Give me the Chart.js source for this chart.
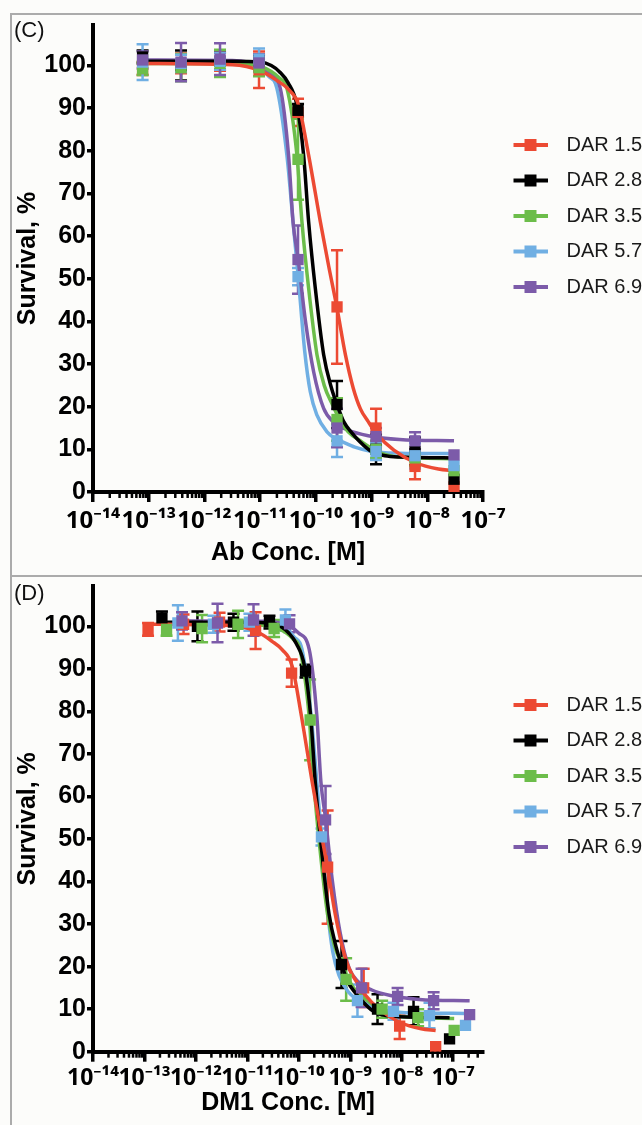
<!DOCTYPE html>
<html><head><meta charset="utf-8">
<script src="https://cdn.jsdelivr.net/npm/chart.js@4.4.1/dist/chart.umd.min.js"></script>
<style>
html,body{margin:0;padding:0;background:#fcfcfa;}
body{width:642px;height:1125px;position:relative;overflow:hidden;font-family:'Liberation Sans',Arial,sans-serif;}
.frame{position:absolute;left:10px;top:13px;width:632px;height:1112px;border-left:2px solid #ababab;border-top:2px solid #ababab;box-sizing:border-box;}
.divider{position:absolute;left:10px;top:575px;width:632px;height:2px;background:#ababab;}
canvas{position:absolute;}
.tag{position:absolute;left:14px;font-size:22px;color:#111;line-height:22px;}
</style></head>
<body>
<div class="frame"></div><div class="divider"></div>
<canvas id="chartC" width="630" height="560" style="left:12px;top:15px"></canvas>
<canvas id="chartD" width="630" height="547" style="left:12px;top:578px"></canvas>
<div class="tag" style="top:19px">(C)</div>
<div class="tag" style="top:582px">(D)</div>
<script>
// ---------- data ----------
const seriesLabels = ['DAR 1.5', 'DAR 2.8', 'DAR 3.5', 'DAR 5.7', 'DAR 6.9'];
const seriesColors = ['#ec4a33', '#000000', '#6cbd4a', '#70afe3', '#7c5ba9'];
const yTickValues = [0, 10, 20, 30, 40, 50, 60, 70, 80, 90, 100];
const xTickExponents = [-14, -13, -12, -11, -10, -9, -8, -7];

// log10 of antibody concentration [M] (panel C)
const abConcLog = [-13.11, -12.42, -11.72, -11.02, -10.32, -9.62, -8.92, -8.22, -7.52];
// log10 of DM1 concentration [M] per DAR (panel D)
const dm1ConcLog15 = [-12.93, -12.24, -11.54, -10.84, -10.14, -9.44, -8.74, -8.04, -7.34];
const dm1ConcLog28 = [-12.66, -11.97, -11.27, -10.57, -9.87, -9.17, -8.47, -7.77, -7.07];
const dm1ConcLog35 = [-12.57, -11.88, -11.18, -10.48, -9.78, -9.08, -8.38, -7.68, -6.98];
const dm1ConcLog57 = [-12.35, -11.66, -10.96, -10.26, -9.56, -8.86, -8.16, -7.46, -6.76];
const dm1ConcLog69 = [-12.27, -11.58, -10.88, -10.18, -9.48, -8.78, -8.08, -7.38, -6.68];

// survival % and error
const surv15 = [99.3, 100.5, 101, 99, 89, 43.4, 15, 6, 1.2];
const err15  = [1.5, 2.3, 2.2, 4.3, 3.2, 13.3, 4.5, 3, 0];
const surv28 = [102, 100, 101, 101, 89.5, 20.5, 10, 9.5, 3];
const err28  = [1.5, 3.5, 2, 1.5, 1.5, 5.5, 3.5, 3.3, 0];
const surv35 = [99.3, 99.5, 100.5, 99.5, 78, 17, 10, 8, 5];
const err35  = [1.5, 3.2, 3.2, 2, 9.5, 5, 2, 2, 0];
const surv57 = [100.8, 100.5, 101, 101.5, 50.5, 12, 9.5, 8.5, 6.2];
const err57  = [4.2, 2, 2, 2.5, 2, 3.8, 2, 3, 0];
const surv69 = [101.3, 100.8, 101.5, 100.6, 54.5, 15, 13, 12, 8.7];
const err69  = [2, 4.5, 3.7, 2, 8, 4.5, 2, 2, 0];

// fitted curves (y), x in log10 Ab conc (C) and log10 DM1 conc (D)
const fit15 = [100.5, 100.2, 98.8, 96.5, 94.5, 90.7, 79, 63.4, 53, 43.1, 32.2, 24.4, 19.5, 16.5, 13.5, 9.8, 6.8, 5.4, 5.0];
const fitAbLog15 = [-13.11, -11.5, -11.0, -10.7, -10.5, -10.31, -10.13, -9.92, -9.77, -9.62, -9.47, -9.33, -9.2, -9.06, -8.9, -8.6, -8.2, -7.8, -7.52];
const fitDm1Log15 = [-12.93, -11.32, -10.82, -10.52, -10.32, -10.13, -9.95, -9.74, -9.59, -9.44, -9.29, -9.15, -9.02, -8.88, -8.72, -8.42, -8.02, -7.62, -7.34];

const fit28 = [101, 101, 100.8, 100, 98.5, 96, 90.7, 79, 63.4, 47.8, 32.2, 24.4, 19.8, 16.5, 13.8, 12.2, 9.5, 8.2, 8.0];
const fitAbLog28 = [-13.11, -11.5, -11.0, -10.8, -10.65, -10.5, -10.34, -10.22, -10.13, -10.01, -9.86, -9.72, -9.6, -9.5, -9.35, -9.24, -9.0, -8.5, -7.52];
const fitDm1Log28 = [-12.66, -11.05, -10.55, -10.35, -10.2, -10.05, -9.89, -9.77, -9.68, -9.56, -9.41, -9.27, -9.15, -9.05, -8.9, -8.79, -8.55, -8.05, -7.07];

const fit35 = [100.5, 100.4, 99.8, 98.6, 97, 94.7, 79, 63.4, 47.8, 32.2, 25, 20.4, 16.5, 14.1, 11.8, 9.5, 8.2, 7.8];
const fitAbLog35 = [-13.11, -11.5, -11.0, -10.8, -10.65, -10.52, -10.34, -10.25, -10.13, -9.98, -9.85, -9.7, -9.55, -9.42, -9.18, -8.9, -8.5, -7.52];
const fitDm1Log35 = [-12.57, -10.96, -10.46, -10.26, -10.11, -9.98, -9.8, -9.71, -9.59, -9.44, -9.31, -9.16, -9.01, -8.88, -8.64, -8.36, -7.96, -6.98];

const fit57 = [101, 101, 100.5, 99.5, 97.5, 94.7, 79, 62, 51, 33, 23.5, 18, 14.1, 12.5, 11.8, 10.5, 9.5, 9.1, 9.0];
const fitAbLog57 = [-13.11, -11.5, -11.2, -11.0, -10.85, -10.7, -10.52, -10.4, -10.32, -10.2, -10.1, -9.98, -9.8, -9.65, -9.53, -9.3, -9.0, -8.5, -7.52];
const fitDm1Log57 = [-12.35, -10.74, -10.44, -10.24, -10.09, -9.94, -9.76, -9.64, -9.56, -9.44, -9.34, -9.22, -9.04, -8.89, -8.77, -8.54, -8.24, -7.74, -6.76];

const fit69 = [101.3, 101.2, 100.8, 100, 98.5, 94.7, 79, 63.4, 54.8, 40.4, 28.2, 19.6, 16.5, 14.5, 13.2, 12.3, 12.0];
const fitAbLog69 = [-13.11, -11.5, -11.2, -11.0, -10.85, -10.64, -10.49, -10.41, -10.32, -10.19, -10.04, -9.86, -9.69, -9.42, -9.06, -8.5, -7.52];
const fitDm1Log69 = [-12.27, -10.66, -10.36, -10.16, -10.01, -9.8, -9.65, -9.57, -9.48, -9.35, -9.2, -9.02, -8.85, -8.58, -8.22, -7.66, -6.68];

// ---------- build ----------
const FONT = "'Liberation Sans', Arial, Helvetica, sans-serif";
const TICKFONT = "'Noto Sans', 'DejaVu Sans', sans-serif";
const survs = [surv15, surv28, surv35, surv57, surv69];
const errs = [err15, err28, err35, err57, err69];
const fits = [fit15, fit28, fit35, fit57, fit69];
const fitOrder = [10, 11, 12, 14, 13];

const SUP = {'-':'\u207B','0':'\u2070','1':'\u00B9','2':'\u00B2','3':'\u00B3','4':'\u2074','5':'\u2075','6':'\u2076','7':'\u2077','8':'\u2078','9':'\u2079'};
const toSup = v => String(v).split('').map(c => SUP[c] || c).join('');

function makeMarker(color) {
  const c = document.createElement('canvas');
  c.width = 40; c.height = 14;
  const g = c.getContext('2d');
  g.fillStyle = color;
  g.fillRect(6, 5, 34, 4);
  g.fillRect(17, 1, 12, 12);
  return c;
}
const markers = seriesColors.map(makeMarker);

function buildDatasets(pointX, curveX) {
  const ds = [];
  for (let i = 0; i < 5; i++) {
    ds.push({
      label: seriesLabels[i],
      data: pointX[i].map((x, j) => ({x, y: survs[i][j]})),
      errors: errs[i],
      backgroundColor: seriesColors[i], borderColor: seriesColors[i],
      pointStyle: 'rect', pointRadius: 8, pointBorderWidth: 0,
      showLine: false, order: 5 - i
    });
  }
  for (let i = 0; i < 5; i++) {
    ds.push({
      label: seriesLabels[i] + ' fit',
      data: curveX[i].map((x, j) => ({x, y: fits[i][j]})),
      borderColor: seriesColors[i], backgroundColor: seriesColors[i],
      borderWidth: 3.5, pointRadius: 0, showLine: true,
      cubicInterpolationMode: 'monotone', order: fitOrder[i]
    });
  }
  return ds;
}

const errorBars = {
  id: 'errorBars',
  beforeDatasetsDraw(chart) {
    const {ctx, scales: {x, y}} = chart;
    chart.data.datasets.forEach(ds => {
      if (!ds.errors) return;
      ctx.save();
      ctx.strokeStyle = ds.borderColor;
      ctx.lineWidth = 2.5;
      ds.data.forEach((p, j) => {
        const e = ds.errors[j];
        if (!e) return;
        const px = x.getPixelForValue(p.x);
        const t = y.getPixelForValue(p.y + e), b = y.getPixelForValue(p.y - e);
        ctx.beginPath();
        ctx.moveTo(px, t); ctx.lineTo(px, b);
        ctx.moveTo(px - 6, t); ctx.lineTo(px + 6, t);
        ctx.moveTo(px - 6, b); ctx.lineTo(px + 6, b);
        ctx.stroke();
      });
      ctx.restore();
    });
  }
};

const minorTicks = {
  id: 'minorTicks',
  afterDraw(chart) {
    const xs = chart.scales.x, ctx = chart.ctx;
    const y0 = xs.top;
    ctx.save();
    ctx.strokeStyle = '#000';
    ctx.lineWidth = 2.5;
    for (let n = Math.floor(xs.min); n < xs.max; n++) {
      for (let k = 2; k < 10; k++) {
        const v = n + Math.log10(k);
        if (v > xs.max) break;
        const px = xs.getPixelForValue(v);
        ctx.beginPath(); ctx.moveTo(px, y0); ctx.lineTo(px, y0 + 6); ctx.stroke();
      }
    }
    ctx.restore();
  }
};

function makeOptions(cfg) {
  return {
    responsive: false, animation: false, devicePixelRatio: 1, events: [],
    layout: {padding: {top: cfg.top, left: 0, right: 0, bottom: 0}},
    plugins: {
      tooltip: {enabled: false},
      title: {display: false},
      legend: {
        position: 'right', align: 'start', maxWidth: 159,
        title: {display: true, text: ' ', font: {size: 10, lineHeight: 1}, padding: {top: cfg.legendOffset, bottom: 0}},
        labels: {
          usePointStyle: true, pointStyleWidth: 58, padding: 15.5,
          color: '#1a1a1a', font: {family: FONT, size: 20},
          generateLabels: () => seriesLabels.map((t, i) => ({
            text: t, datasetIndex: i, pointStyle: markers[i],
            fillStyle: seriesColors[i], strokeStyle: seriesColors[i],
            lineWidth: 0, hidden: false, fontColor: '#1a1a1a'
          }))
        }
      }
    },
    scales: {
      x: {
        type: 'linear', position: 'bottom', min: -14, max: cfg.xMax,
        afterBuildTicks: s => { s.ticks = xTickExponents.map(v => ({value: v})); },
        afterFit: s => { s.height = cfg.xHeight; s.paddingLeft = 0; s.paddingRight = 0; },
        border: {display: true, width: 4, color: '#000'},
        grid: {display: true, drawOnChartArea: false, drawTicks: true, tickLength: 10, tickWidth: 3.5, lineWidth: 3.5, color: '#000'},
        ticks: {autoSkip: false, maxRotation: 0, minRotation: 0, padding: cfg.xPad, color: '#000',
          font: {family: TICKFONT, size: cfg.xFont, weight: 'bold'}, callback: v => '10' + toSup(v)},
        title: {display: true, text: cfg.xTitle, color: '#000', font: {family: FONT, size: 25, weight: 'bold'}, padding: {top: 0, bottom: 7}}
      },
      y: {
        type: 'linear', position: 'left', min: 0, max: 109.5,
        afterBuildTicks: s => { s.ticks = yTickValues.map(v => ({value: v})); },
        afterFit: s => { s.width = 81; s.paddingTop = 0; s.paddingBottom = 0; },
        border: {display: true, width: 4, color: '#000'},
        grid: {display: true, drawOnChartArea: false, drawTicks: true, tickLength: 6, tickWidth: 3.5, lineWidth: 3.5, color: '#000'},
        ticks: {autoSkip: false, padding: 1, color: '#000', font: {family: FONT, size: 25, weight: 'bold'}},
        title: {display: true, text: 'Survival, %', color: '#000', font: {family: FONT, size: 25, weight: 'bold'}, padding: {top: 1, bottom: 0}}
      }
    }
  };
}

new Chart(document.getElementById('chartC'), {
  type: 'scatter',
  data: {datasets: buildDatasets(
    [abConcLog, abConcLog, abConcLog, abConcLog, abConcLog],
    [fitAbLog15, fitAbLog28, fitAbLog35, fitAbLog57, fitAbLog69])},
  options: makeOptions({top: 10, legendOffset: 84.5, xMax: -7, xHeight: 83, xPad: 5, xFont: 24, xTitle: 'Ab Conc. [M]'}),
  plugins: [errorBars, minorTicks]
});

new Chart(document.getElementById('chartD'), {
  type: 'scatter',
  data: {datasets: buildDatasets(
    [dm1ConcLog15, dm1ConcLog28, dm1ConcLog35, dm1ConcLog57, dm1ConcLog69],
    [fitDm1Log15, fitDm1Log28, fitDm1Log35, fitDm1Log57, fitDm1Log69])},
  options: makeOptions({top: 5, legendOffset: 86.5, xMax: -6.42, xHeight: 73.3, xPad: 3, xFont: 23, xTitle: 'DM1 Conc. [M]'}),
  plugins: [errorBars, minorTicks]
});
</script>
</body></html>
